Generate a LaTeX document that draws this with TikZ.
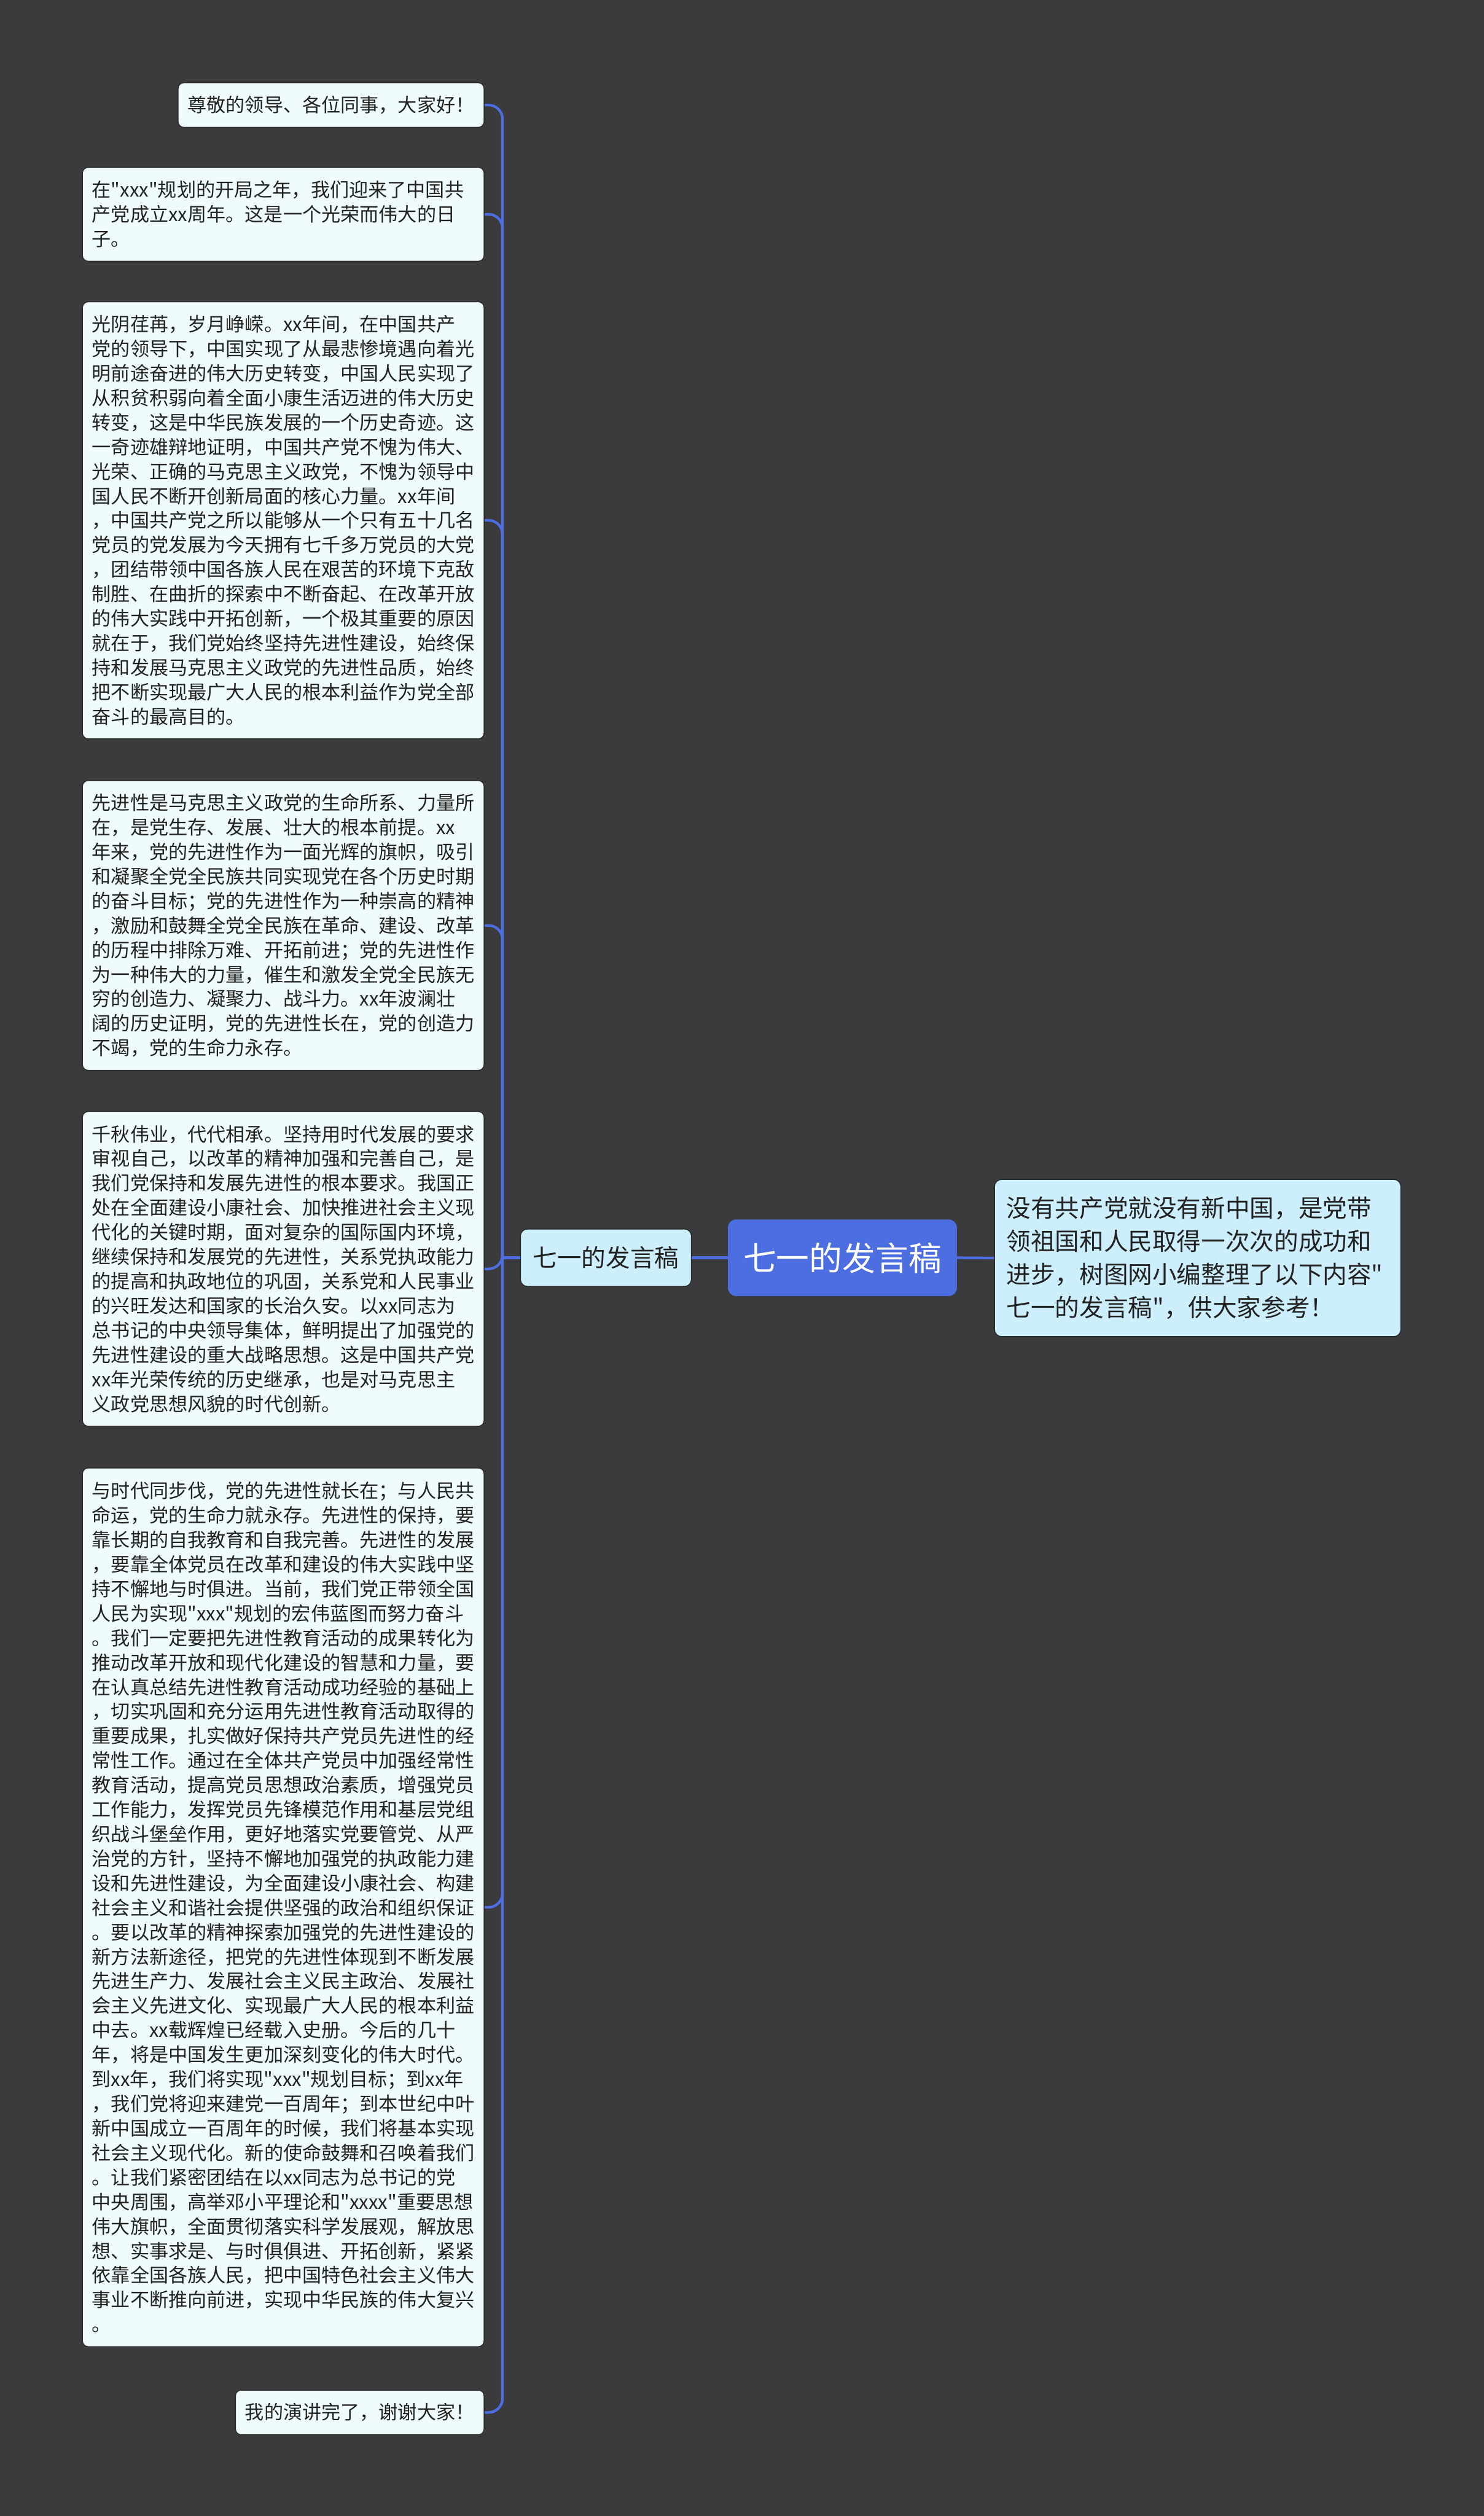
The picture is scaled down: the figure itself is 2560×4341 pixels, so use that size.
\documentclass[tikz,border=0pt]{standalone}
\usepackage{fontspec}
\newfontfamily\cjk{Noto Sans CJK SC}
\definecolor{bg}{HTML}{3B3A3C}
\definecolor{leaffill}{HTML}{F0FBFC}
\definecolor{leafline}{HTML}{2A2A2A}
\definecolor{leaftext}{HTML}{222222}
\definecolor{lightblue}{HTML}{CCEEFD}
\definecolor{rootblue}{HTML}{4C6EE0}
\definecolor{connblue}{HTML}{4C6EE0}
\begin{document}
\begin{tikzpicture}[x=1pt,y=1pt,
  leaf/.style={draw=leafline, line width=1.5pt, fill=leaffill, rounded corners=10pt,
    font=\cjk\fontsize{33pt}{42.3pt}\selectfont, text=leaftext, align=left,
    inner xsep=16.5pt, inner ysep=0pt, anchor=north east},
  wideleaf/.style={leaf, text width=660pt},
  l1box/.style={draw=leafline, line width=1.5pt, fill=lightblue, rounded corners=12pt,
    font=\cjk\fontsize{42pt}{52pt}\selectfont, text=leaftext,
    minimum width=295pt, minimum height=99pt, inner sep=0pt},
  rootbox/.style={fill=rootblue, rounded corners=14pt,
    font=\cjk\fontsize{57pt}{66pt}\selectfont, text=white,
    minimum width=395pt, minimum height=132pt, inner sep=0pt},
  descbox/.style={draw=leafline, line width=1.5pt, fill=lightblue, rounded corners=12pt,
    font=\cjk\fontsize{42pt}{57pt}\selectfont, text=leaftext, align=left,
    text width=660pt, inner xsep=20.5pt, inner ysep=0pt, minimum height=271pt},
  conn/.style={draw=connblue, line width=4.5pt},
  branch/.style={conn, rounded corners=24pt}
]
\fill[bg] (0,0) rectangle (2560,-4341);
\useasboundingbox (0,0) rectangle (2560,-4341);

% central nodes
\node[rootbox] (root) at (1453.5,-2170) {七一的发言稿};
\node[l1box] (l1) at (1045.5,-2170) {七一的发言稿};
\node[descbox] (desc) at (2066.5,-2170.5) {没有共产党就没有新中国，是党带\\领祖国和人民取得一次次的成功和\\进步，树图网小编整理了以下内容"\\七一的发言稿"，供大家参考！};

% leaves
\node[leaf, minimum height=77pt] (n1) at (836,-142) {尊敬的领导、各位同事，大家好！};
\node[wideleaf, minimum height=162pt] (n2) at (836,-288) {在"xxx"规划的开局之年，我们迎来了中国共\\产党成立xx周年。这是一个光荣而伟大的日\\子。};
\node[wideleaf, minimum height=754pt] (n3) at (836,-520) {光阴荏苒，岁月峥嵘。xx年间，在中国共产\\党的领导下，中国实现了从最悲惨境遇向着光\\明前途奋进的伟大历史转变，中国人民实现了\\从积贫积弱向着全面小康生活迈进的伟大历史\\转变，这是中华民族发展的一个历史奇迹。这\\一奇迹雄辩地证明，中国共产党不愧为伟大、\\光荣、正确的马克思主义政党，不愧为领导中\\国人民不断开创新局面的核心力量。xx年间\\，中国共产党之所以能够从一个只有五十几名\\党员的党发展为今天拥有七千多万党员的大党\\，团结带领中国各族人民在艰苦的环境下克敌\\制胜、在曲折的探索中不断奋起、在改革开放\\的伟大实践中开拓创新，一个极其重要的原因\\就在于，我们党始终坚持先进性建设，始终保\\持和发展马克思主义政党的先进性品质，始终\\把不断实现最广大人民的根本利益作为党全部\\奋斗的最高目的。};
\node[wideleaf, minimum height=500pt] (n4) at (836,-1346) {先进性是马克思主义政党的生命所系、力量所\\在，是党生存、发展、壮大的根本前提。xx\\年来，党的先进性作为一面光辉的旗帜，吸引\\和凝聚全党全民族共同实现党在各个历史时期\\的奋斗目标；党的先进性作为一种崇高的精神\\，激励和鼓舞全党全民族在革命、建设、改革\\的历程中排除万难、开拓前进；党的先进性作\\为一种伟大的力量，催生和激发全党全民族无\\穷的创造力、凝聚力、战斗力。xx年波澜壮\\阔的历史证明，党的先进性长在，党的创造力\\不竭，党的生命力永存。};
\node[wideleaf, minimum height=543pt] (n5) at (836,-1917) {千秋伟业，代代相承。坚持用时代发展的要求\\审视自己，以改革的精神加强和完善自己，是\\我们党保持和发展先进性的根本要求。我国正\\处在全面建设小康社会、加快推进社会主义现\\代化的关键时期，面对复杂的国际国内环境，\\继续保持和发展党的先进性，关系党执政能力\\的提高和执政地位的巩固，关系党和人民事业\\的兴旺发达和国家的长治久安。以xx同志为\\总书记的中央领导集体，鲜明提出了加强党的\\先进性建设的重大战略思想。这是中国共产党\\xx年光荣传统的历史继承，也是对马克思主\\义政党思想风貌的时代创新。};
\node[wideleaf, minimum height=1516pt] (n6) at (836,-2532) {与时代同步伐，党的先进性就长在；与人民共\\命运，党的生命力就永存。先进性的保持，要\\靠长期的自我教育和自我完善。先进性的发展\\，要靠全体党员在改革和建设的伟大实践中坚\\持不懈地与时俱进。当前，我们党正带领全国\\人民为实现"xxx"规划的宏伟蓝图而努力奋斗\\。我们一定要把先进性教育活动的成果转化为\\推动改革开放和现代化建设的智慧和力量，要\\在认真总结先进性教育活动成功经验的基础上\\，切实巩固和充分运用先进性教育活动取得的\\重要成果，扎实做好保持共产党员先进性的经\\常性工作。通过在全体共产党员中加强经常性\\教育活动，提高党员思想政治素质，增强党员\\工作能力，发挥党员先锋模范作用和基层党组\\织战斗堡垒作用，更好地落实党要管党、从严\\治党的方针，坚持不懈地加强党的执政能力建\\设和先进性建设，为全面建设小康社会、构建\\社会主义和谐社会提供坚强的政治和组织保证\\。要以改革的精神探索加强党的先进性建设的\\新方法新途径，把党的先进性体现到不断发展\\先进生产力、发展社会主义民主政治、发展社\\会主义先进文化、实现最广大人民的根本利益\\中去。xx载辉煌已经载入史册。今后的几十\\年，将是中国发生更加深刻变化的伟大时代。\\到xx年，我们将实现"xxx"规划目标；到xx年\\，我们党将迎来建党一百周年；到本世纪中叶\\新中国成立一百周年的时候，我们将基本实现\\社会主义现代化。新的使命鼓舞和召唤着我们\\。让我们紧密团结在以xx同志为总书记的党\\中央周围，高举邓小平理论和"xxxx"重要思想\\伟大旗帜，全面贯彻落实科学发展观，解放思\\想、实事求是、与时俱俱进、开拓创新，紧紧\\依靠全国各族人民，把中国特色社会主义伟大\\事业不断推向前进，实现中华民族的伟大复兴\\。};
\node[leaf, minimum height=77pt] (n7) at (836,-4123) {我的演讲完了，谢谢大家！};

% connectors
\coordinate (trunk) at (867,-2170);
\draw[conn] (root.west) -- (l1.east);
\draw[conn] (root.east) -- (desc.west);
\draw[conn] (l1.west) -- (trunk);
\foreach \n in {n1,n2,n3,n4,n5,n6,n7}{
  \draw[branch] (trunk) |- (\n.east);
}
\end{tikzpicture}
\end{document}
